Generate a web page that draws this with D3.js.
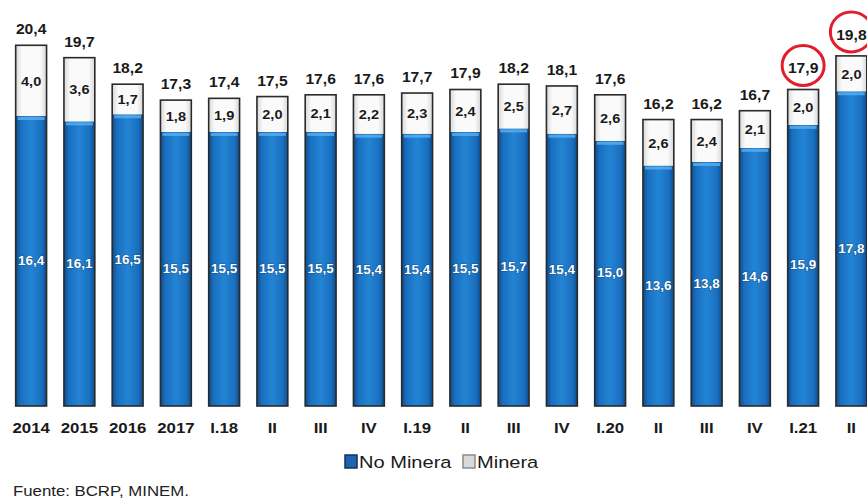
<!DOCTYPE html>
<html>
<head>
<meta charset="utf-8">
<script src="https://cdn.jsdelivr.net/npm/d3@7"></script>
<style>
  body { margin: 0; background: #fff; }
  text { font-family: "Liberation Sans", Arial, sans-serif; }
</style>
</head>
<body>
<div id="chart"></div>
<script>
let width = 867,
    height = 499,
    margin = ({ top: 17, right: 0, bottom: 93, left: 7 });

// data
const categories = ["2014", "2015", "2016", "2017", "I.18", "II", "III", "IV", "I.19", "II", "III", "IV", "I.20", "II", "III", "IV", "I.21", "II"];
const noMinera = [16.4, 16.1, 16.5, 15.5, 15.5, 15.5, 15.5, 15.4, 15.4, 15.5, 15.7, 15.4, 15.0, 13.6, 13.8, 14.6, 15.9, 17.8];
const minera = [4.0, 3.6, 1.7, 1.8, 1.9, 2.0, 2.1, 2.2, 2.3, 2.4, 2.5, 2.7, 2.6, 2.6, 2.4, 2.1, 2.0, 2.0];
const totals = [20.4, 19.7, 18.2, 17.3, 17.4, 17.5, 17.6, 17.6, 17.7, 17.9, 18.2, 18.1, 17.6, 16.2, 16.2, 16.7, 17.9, 19.8];
const circled = [16, 17];
const seriesNames = ["No Minera", "Minera"];

const fmt = v => d3.format(".1f")(v).replace(".", ",");
const sx = 1.12; // the picture is a bit wider than tall

const svg = d3.select("#chart")
  .append("svg")
  .attr("width", width)
  .attr("height", height);

let defs = svg.append("defs");
let blueGrad = defs.append("linearGradient").attr("id", "blue").attr("x1", 0).attr("x2", 1);
[["0%", "#0d4c8c"], ["16%", "#1a6fbf"], ["50%", "#2384d4"], ["84%", "#1a6fbf"], ["100%", "#0d4c8c"]]
  .forEach(s => blueGrad.append("stop").attr("offset", s[0]).attr("stop-color", s[1]));
let whiteGrad = defs.append("linearGradient").attr("id", "white").attr("x1", 0).attr("x2", 1);
[["0%", "#d8d8d8"], ["20%", "#fafafa"], ["80%", "#fafafa"], ["100%", "#d8d8d8"]]
  .forEach(s => whiteGrad.append("stop").attr("offset", s[0]).attr("stop-color", s[1]));

let idx = d3.range(categories.length);

let x = d3.scaleBand()
  .domain(idx)
  .range([margin.left, 875.5])
  .paddingInner(0.36)
  .paddingOuter(0.18);

let y = d3.scaleLinear()
  .domain([0, 22])
  .range([height - margin.bottom, margin.top]);

function stretchText(sel, tx, ty) {
  sel.attr("transform", (d, i) => `translate(${tx(d, i)},${ty(d, i)}) scale(${sx},1)`);
}

let bars = svg.append("g").selectAll("g")
  .data(idx)
  .join("g");

// No Minera
bars.append("rect")
  .attr("x", i => x(i))
  .attr("y", i => y(noMinera[i]))
  .attr("width", x.bandwidth())
  .attr("height", i => y(0) - y(noMinera[i]))
  .attr("fill", "url(#blue)");

bars.append("rect")
  .attr("x", i => x(i) + 2)
  .attr("y", i => y(noMinera[i]) + 1)
  .attr("width", x.bandwidth() - 4)
  .attr("height", 3)
  .attr("fill", "#5db0ec")
  .attr("opacity", 0.8);

// Minera
bars.append("rect")
  .attr("x", i => x(i))
  .attr("y", i => y(totals[i]))
  .attr("width", x.bandwidth())
  .attr("height", i => y(noMinera[i]) - y(totals[i]))
  .attr("fill", "url(#white)");

// outline
bars.append("rect")
  .attr("x", i => x(i))
  .attr("y", i => y(totals[i]))
  .attr("width", x.bandwidth())
  .attr("height", i => y(0) - y(totals[i]))
  .attr("fill", "none")
  .attr("stroke", "#2a2a2a")
  .attr("stroke-width", 1.6);

// value labels
bars.append("text")
  .attr("text-anchor", "middle")
  .attr("font-size", 12)
  .attr("font-weight", "bold")
  .attr("fill", "#fff")
  .attr("stroke", "#0a3560")
  .attr("stroke-width", 0.6)
  .attr("paint-order", "stroke")
  .call(stretchText, i => x(i) + x.bandwidth() / 2, i => (y(0) + y(noMinera[i])) / 2 + 4)
  .text(i => fmt(noMinera[i]));

bars.append("text")
  .attr("text-anchor", "middle")
  .attr("font-size", 13)
  .attr("font-weight", "bold")
  .attr("fill", "#1a1a1a")
  .call(stretchText, i => x(i) + x.bandwidth() / 2, i => (y(noMinera[i]) + y(totals[i])) / 2 + 5)
  .text(i => fmt(minera[i]));

bars.append("text")
  .attr("text-anchor", "middle")
  .attr("font-size", 14)
  .attr("font-weight", "bold")
  .attr("fill", "#1a1a1a")
  .call(stretchText, i => x(i) + x.bandwidth() / 2, i => y(totals[i]) - (circled.includes(i) ? 16 : 11))
  .text(i => fmt(totals[i]));

// red circles
svg.append("g").selectAll("ellipse")
  .data(circled)
  .join("ellipse")
  .attr("cx", i => x(i) + x.bandwidth() / 2)
  .attr("cy", i => y(totals[i]) - 24)
  .attr("rx", 21)
  .attr("ry", 20)
  .attr("fill", "none")
  .attr("stroke", "#e31e2a")
  .attr("stroke-width", 3);

// x axis
let xAxis = svg.append("g")
  .attr("transform", `translate(0,${y(0)})`)
  .call(d3.axisBottom(x).tickSize(0).tickPadding(0).tickFormat(i => categories[i]));
xAxis.select(".domain").remove();
xAxis.selectAll("text")
  .attr("y", 0).attr("dy", 0)
  .attr("font-size", 15)
  .attr("font-weight", "bold")
  .attr("fill", "#1a1a1a")
  .attr("font-family", "Liberation Sans, Arial, sans-serif")
  .attr("transform", `translate(0,27) scale(${sx},1)`);

// legend
let legend = svg.append("g").attr("transform", "translate(345,468)");
let legendColors = ["#1a66b0", "#d9d9d9"];
let lx = [0, 118];
seriesNames.forEach((name, i) => {
  legend.append("rect")
    .attr("x", lx[i]).attr("y", -13)
    .attr("width", 12).attr("height", 13)
    .attr("fill", legendColors[i])
    .attr("stroke", i === 0 ? "#14325a" : "#8a8a8a")
    .attr("stroke-width", 1.5);
  legend.append("text")
    .attr("transform", `translate(${lx[i] + 14},0) scale(1.18,1)`)
    .attr("font-size", 17)
    .attr("fill", "#1a1a1a")
    .text(name);
});

svg.append("text")
  .attr("transform", `translate(13,496) scale(${sx},1)`)
  .attr("font-size", 15)
  .attr("fill", "#222")
  .text("Fuente: BCRP, MINEM.");
</script>
</body>
</html>
